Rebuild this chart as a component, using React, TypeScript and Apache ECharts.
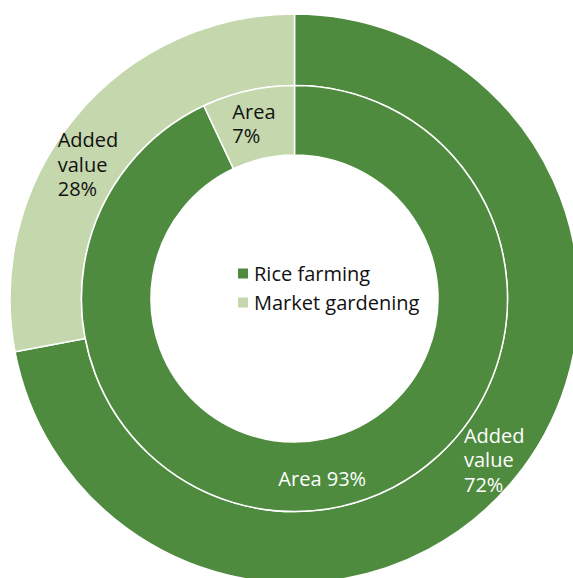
import React, { useEffect, useRef } from "react";
import * as echarts from "echarts";

const categories = ["Rice farming", "Market gardening"];
const addedValue = [72, 28];
const area = [93, 7];
const colors = ["#4E8B3F", "#C5D7AC"];

export default function App() {
  const ref = useRef<HTMLDivElement>(null);

  useEffect(() => {
    if (!ref.current) return;
    const chart = echarts.init(ref.current, undefined, { renderer: "svg" });
    const font = "'Open Sans', sans-serif";
    const labelColors = ["#ffffff", "#111111"];
    const outerOffsets = [
      [-24.5, 1],
      [-42.8, 26],
    ];
    const innerOffsets = [
      [-55.7, 3.5],
      [-22.6, 2],
    ];
    const mkData = (vals: number[]) =>
      vals.map((v, i) => ({
        name: categories[i],
        value: v,
        label: { color: labelColors[i] },
      }));
    const baseLabel = {
      show: true,
      position: "inside" as const,
      fontFamily: font,
      fontSize: 20,
      lineHeight: 24.5,
    };
    chart.setOption({
      animation: false,
      color: colors,
      legend: {
        orient: "vertical",
        left: 236,
        top: 259,
        padding: 0,
        itemGap: 0,
        itemWidth: 12,
        itemHeight: 12,
        icon: "rect",
        selectedMode: false,
        data: categories,
        textStyle: {
          fontFamily: font,
          fontSize: 20,
          lineHeight: 29,
          color: "#111111",
          padding: [0, 0, 0, 0],
        },
      },
      series: [
        {
          name: "Added value",
          type: "pie",
          center: [294.5, 298.5],
          radius: [213, 284.5],
          startAngle: 90,
          clockwise: true,
          silent: true,
          avoidLabelOverlap: false,
          itemStyle: { borderColor: "#ffffff", borderWidth: 1.5 },
          label: {
            ...baseLabel,
            formatter: (p: any) => `Added\nvalue\n${p.value}%`,
          },
          labelLine: { show: false },
          labelLayout: (p: any) => ({
            align: "left",
            dx: outerOffsets[p.dataIndex][0],
            dy: outerOffsets[p.dataIndex][1],
          }),
          data: mkData(addedValue),
        },
        {
          name: "Area",
          type: "pie",
          center: [294.5, 298.5],
          radius: [143.5, 213],
          startAngle: 90,
          clockwise: true,
          silent: true,
          avoidLabelOverlap: false,
          itemStyle: { borderColor: "#ffffff", borderWidth: 1.5 },
          label: {
            ...baseLabel,
            formatter: (p: any) =>
              p.dataIndex === 0 ? `Area ${p.value}%` : `Area\n${p.value}%`,
          },
          labelLine: { show: false },
          labelLayout: (p: any) => ({
            align: "left",
            dx: innerOffsets[p.dataIndex][0],
            dy: innerOffsets[p.dataIndex][1],
          }),
          data: mkData(area),
        },
      ],
    });
    return () => chart.dispose();
  }, []);

  return (
    <div
      ref={ref}
      style={{ position: "absolute", left: 0, top: 0, width: 573, height: 578 }}
    />
  );
}
